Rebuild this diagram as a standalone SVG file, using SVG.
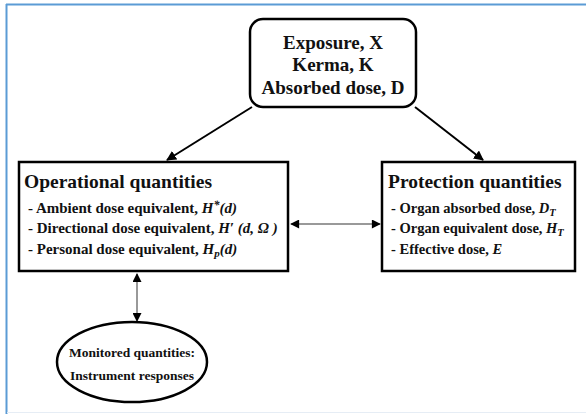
<svg xmlns="http://www.w3.org/2000/svg" width="586" height="414" viewBox="0 0 586 414">
<style>
.box{fill:#fff;stroke:#000;stroke-width:2.5}
.t{font-family:"Liberation Serif","Times New Roman",serif;font-weight:bold;fill:#111}
.title{font-size:19.5px}
.top{font-size:19px}
.item{font-size:15px}
.itemr{font-size:14.5px}
.ell{font-size:13.5px}
.it{font-style:italic}
.con{stroke:#000;stroke-width:2;fill:none}
.dbl{stroke:#777;stroke-width:1.5;fill:none}
</style>
<defs>
<marker id="ah" viewBox="0 0 10 10" refX="9" refY="5" markerWidth="5" markerHeight="5" orient="auto-start-reverse" markerUnits="strokeWidth"><path d="M0,0 L10,5 L0,10 z" fill="#000"/></marker>
<marker id="ah2" viewBox="0 0 10 10" refX="9" refY="5" markerWidth="7" markerHeight="6" orient="auto-start-reverse" markerUnits="strokeWidth"><path d="M0,0 L10,5 L0,10 z" fill="#000"/></marker>
</defs>
<rect width="586" height="414" fill="#fff"/>
<line x1="6.5" y1="4" x2="6.5" y2="414" stroke="#5b9bd5" stroke-width="2"/>
<line x1="6" y1="4.5" x2="586" y2="4.5" stroke="#5b9bd5" stroke-width="2"/>
<line x1="7" y1="412.5" x2="586" y2="412.5" stroke="#e6edf5" stroke-width="1"/>
<g id="connectors">
<line class="con" x1="252" y1="107" x2="167" y2="160" marker-end="url(#ah)"/>
<line class="con" x1="415" y1="107" x2="483" y2="160" marker-end="url(#ah)"/>
<line class="dbl" x1="291" y1="224" x2="380" y2="224" marker-start="url(#ah2)" marker-end="url(#ah2)"/>
<line class="dbl" x1="137" y1="274" x2="137" y2="321" marker-start="url(#ah2)" marker-end="url(#ah2)"/>
</g>
<g id="node-top">
<rect class="box" x="250" y="19" width="166" height="88" rx="13"/>
<text class="t top" x="333" y="49" text-anchor="middle">Exposure, X</text>
<text class="t top" x="333" y="71" text-anchor="middle">Kerma, K</text>
<text class="t top" x="333" y="94" text-anchor="middle">Absorbed dose, D</text>
</g>
<g id="node-operational">
<rect class="box" x="19" y="162" width="269" height="109"/>
<text class="t title" x="24" y="188">Operational quantities</text>
<text class="t item" x="28" y="213">- Ambient dose equivalent, <tspan class="it">H</tspan><tspan class="it" dy="-4" font-size="12">*</tspan><tspan class="it" dy="4">(d)</tspan></text>
<text class="t item" x="28" y="233">- Directional dose equivalent, <tspan class="it">H′ (d, Ω )</tspan></text>
<text class="t item" x="28" y="254">- Personal dose equivalent, <tspan class="it">H</tspan><tspan class="it" dy="3" font-size="11">p</tspan><tspan class="it" dy="-3">(d)</tspan></text>
</g>
<g id="node-protection">
<rect class="box" x="382" y="162" width="193" height="109"/>
<text class="t title" x="388" y="188">Protection quantities</text>
<text class="t itemr" x="391" y="213">- Organ absorbed dose, <tspan class="it">D</tspan><tspan class="it" dy="3" font-size="10.5">T</tspan></text>
<text class="t itemr" x="391" y="233">- Organ equivalent dose, <tspan class="it">H</tspan><tspan class="it" dy="3" font-size="10.5">T</tspan></text>
<text class="t itemr" x="391" y="254">- Effective dose, <tspan class="it">E</tspan></text>
</g>
<g id="node-monitored">
<ellipse class="box" cx="132" cy="362" rx="75" ry="40"/>
<text class="t ell" x="132" y="357" text-anchor="middle">Monitored quantities:</text>
<text class="t ell" x="132" y="380" text-anchor="middle">Instrument responses</text>
</g>
</svg>
